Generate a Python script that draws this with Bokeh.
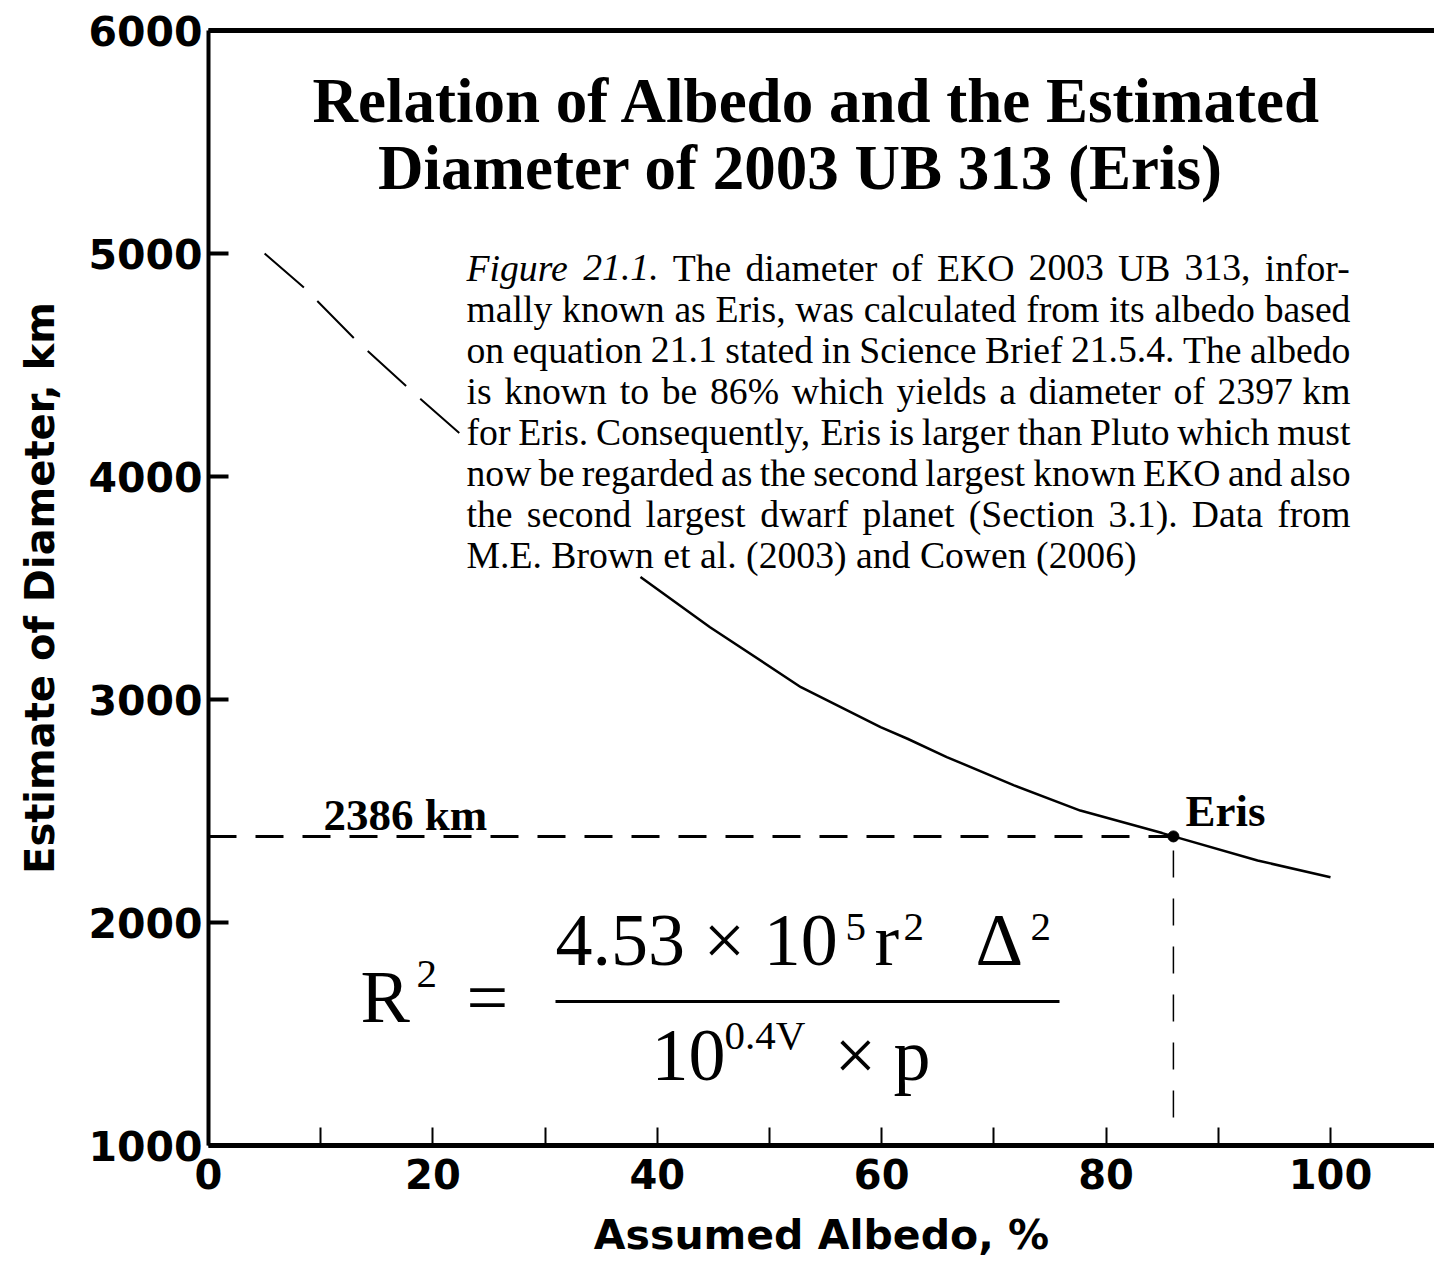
from bokeh.plotting import figure
from bokeh.models import FixedTicker, LinearAxis, Label, BoxAnnotation, Range1d
from bokeh.embed import file_html
from bokeh.resources import INLINE

# ---------------- data ----------------
albedo_dashed = [5.0, 8.6, 13.1, 18.3, 22.5]
diameter_dashed = [5000, 4843, 4613, 4374, 4188]
albedo_solid = [38.5, 44.7, 52.8, 59.9, 62.3, 65.8, 71.8, 77.7, 85.0, 86.0, 93.5, 100.0]
diameter_solid = [3549, 3324, 3055, 2876, 2824, 2742, 2615, 2502, 2401, 2386, 2278, 2203]
eris_albedo = [86]
eris_diameter = [2386]
guide_bottom = [1126]
x_ticks = [0, 20, 40, 60, 80, 100]
x_minor = [10, 30, 50, 70, 90]
y_ticks = [1000, 2000, 3000, 4000, 5000, 6000]

x_title = "Assumed Albedo, %"
y_title = "Estimate of Diameter, km"
title_lines = ["Relation of Albedo and the Estimated", "Diameter of 2003 UB 313 (Eris)"]
caption_lines = [
    "Figure 21.1. The diameter of EKO 2003 UB 313, infor-",
    "mally known as Eris, was calculated from its albedo based",
    "on equation 21.1 stated in Science Brief 21.5.4. The albedo",
    "is known to be 86% which yields a diameter of 2397\u00a0km",
    "for Eris. Consequently, Eris is larger than Pluto which must",
    "now be regarded as the second largest known EKO and also",
    "the second largest dwarf planet (Section 3.1). Data from",
    "M.E. Brown et al. (2003) and Cowen (2006)",
]

# ---------------- layout ----------------
W, H = 1434, 1262
BL, BR, BT, BB = 208, 0, 30, 117
X_END = 109.27
FW, FH = W - BL - BR, H - BT - BB
PAGE_L, PAGE_T = BL, BT


def X(px):
    return (px - PAGE_L) * X_END / FW


def Y(py):
    return 6000 - (py - PAGE_T) * 5000 / FH


p = figure(width=W, height=H, x_range=Range1d(0, X_END), y_range=Range1d(1000, 6000),
           output_backend="svg", toolbar_location=None,
           min_border_left=BL, min_border_right=BR, min_border_top=BT, min_border_bottom=BB)
p.xgrid.visible = False
p.ygrid.visible = False
p.outline_line_color = None
p.background_fill_color = "white"
p.border_fill_color = "white"

AX_FONT = "DejaVu Sans"
xa = p.xaxis[0]
xa.ticker = FixedTicker(ticks=x_ticks, minor_ticks=x_minor)
xa.axis_line_width = 5
xa.axis_line_color = "black"
xa.major_tick_in = 18
xa.major_tick_out = 0
xa.major_tick_line_width = 2
xa.minor_tick_in = 18
xa.minor_tick_out = 0
xa.minor_tick_line_width = 2
xa.major_label_text_font = AX_FONT
xa.major_label_text_font_style = "bold"
xa.major_label_text_font_size = "40px"
xa.major_label_text_color = "black"
xa.major_label_standoff = 13
xa.axis_label = x_title
xa.axis_label_text_font = AX_FONT
xa.axis_label_text_font_style = "bold"
xa.axis_label_text_font_size = "41px"
xa.axis_label_text_color = "black"
xa.axis_label_standoff = 19

ya = p.yaxis[0]
ya.ticker = FixedTicker(ticks=y_ticks, minor_ticks=[])
ya.axis_line_width = 4
ya.axis_line_color = "black"
ya.major_tick_in = 20
ya.major_tick_out = 0
ya.major_tick_line_width = 4
ya.minor_tick_in = 0
ya.minor_tick_out = 0
ya.major_label_text_font = AX_FONT
ya.major_label_text_font_style = "bold"
ya.major_label_text_font_size = "41px"
ya.major_label_text_color = "black"
ya.major_label_standoff = 6
ya.axis_label = y_title
ya.axis_label_text_font = AX_FONT
ya.axis_label_text_font_style = "bold"
ya.axis_label_text_font_size = "40px"
ya.axis_label_text_color = "black"
ya.axis_label_standoff = 22

top = LinearAxis(ticker=FixedTicker(ticks=[], minor_ticks=[]), axis_line_width=5,
                 axis_line_color="black", major_tick_in=0, major_tick_out=0,
                 minor_tick_in=0, minor_tick_out=0, major_label_text_font_size="0px")
p.add_layout(top, "above")

# ---------------- curve and Eris marker ----------------
p.line(albedo_dashed, diameter_dashed, line_color="black", line_width=2, line_dash="52 19")
p.line(albedo_solid, diameter_solid, line_color="black", line_width=2.5)
p.line([0, eris_albedo[0]], [eris_diameter[0], eris_diameter[0]],
       line_color="black", line_width=3, line_dash="28 19")
p.line([eris_albedo[0], eris_albedo[0]], [guide_bottom[0], eris_diameter[0]],
       line_color="black", line_width=1.5, line_dash="27 21")
p.scatter(eris_albedo, eris_diameter, size=11, color="black")

SERIF = "Liberation Serif"
MID = 0.338  # middle-to-baseline distance, in em (Liberation Serif)


def lab(px, py, text, size, style="normal", align="left"):
    # py is the wanted baseline (page px); the label is anchored at its middle
    p.add_layout(Label(x=X(px), y=Y(py - MID * size), text=text, text_font=SERIF,
                       text_font_size=f"{size}px", text_font_style=style,
                       text_align=align, text_baseline="middle", text_color="black"))


# title
lab(817, 122, title_lines[0], 63, "bold", "center")
lab(800, 189, title_lines[1], 63, "bold", "center")

# labels on the chart
lab(323, 830, "2386 km", 45, "bold")
lab(1185, 826, "Eris", 45, "bold")

# ---------------- caption (justified) ----------------
ROMAN = {' ': 250, '%': 833, '(': 333, ')': 333, ',': 250, '-': 333, '.': 250, '\u00a0': 250,
         'A': 722, 'B': 667, 'C': 667, 'D': 722, 'E': 611, 'F': 556, 'K': 722, 'M': 889,
         'O': 722, 'P': 556, 'S': 556, 'T': 611, 'U': 722,
         'a': 444, 'b': 500, 'c': 444, 'd': 500, 'e': 444, 'f': 333, 'g': 500, 'h': 500,
         'i': 278, 'j': 278, 'k': 500, 'l': 278, 'm': 778, 'n': 500, 'o': 500, 'p': 500,
         'q': 500, 'r': 333, 's': 389, 't': 278, 'u': 500, 'v': 500, 'w': 722, 'x': 500,
         'y': 500, 'z': 444}
for d in "0123456789":
    ROMAN[d] = 500
ITALIC = dict(ROMAN)
ITALIC.update({'F': 611, 'i': 278, 'g': 500, 'u': 500, 'r': 389, 'e': 444})

CS = 37.7
CAP_L, CAP_R = 466, 1350
baselines = [280, 321, 362, 403, 444, 485, 526, 567]


def tw(s, table):
    return sum(table.get(c, 500) for c in s) / 1000 * CS


for i, line in enumerate(caption_lines):
    words = line.split(" ")
    styles = ["italic" if (i == 0 and k < 2) else "normal" for k in range(len(words))]
    widths = [tw(w, ITALIC if s == "italic" else ROMAN) for w, s in zip(words, styles)]
    if i < len(caption_lines) - 1:
        gap = (CAP_R - CAP_L - sum(widths)) / (len(words) - 1)
    else:
        gap = 0.25 * CS
    x = CAP_L
    for w, s, wd in zip(words, styles, widths):
        lab(x, baselines[i], w, CS, s)
        x += wd + gap

# ---------------- formula ----------------
FS, SS = 74, 41
lab(360, 1022, "R", FS)
lab(416, 987, "2", SS)
lab(466, 1022, "=", FS)
lab(555, 965, "4.53 \u00d7 10", FS)
lab(845, 940, "5", SS)
lab(874, 965, "r", FS)
lab(903, 940, "2", SS)
lab(975, 965, "\u0394", FS)
lab(1030, 940, "2", SS)
p.add_layout(BoxAnnotation(left=X(555), right=X(1059), top=Y(999.5), bottom=Y(1002.5),
                           fill_color="black", fill_alpha=1, line_color=None))
lab(651, 1080, "10", FS)
lab(724, 1048, "0.4V", SS)
lab(834, 1080, "\u00d7", FS)
lab(893, 1080, "p", FS)

open("out.html", "w").write(file_html(p, INLINE))
